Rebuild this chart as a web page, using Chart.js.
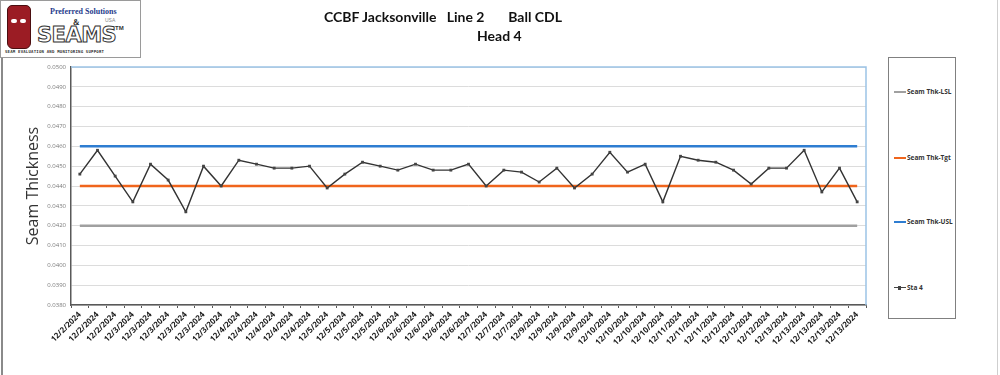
<!DOCTYPE html>
<html><head><meta charset="utf-8">
<script src="https://cdn.jsdelivr.net/npm/chart.js@4.4.1/dist/chart.umd.min.js"></script>
<style>
html,body{margin:0;padding:0;background:#fff}
body{width:1000px;height:375px;position:relative;overflow:hidden;font-family:Lato,"Open Sans",sans-serif}
#c{position:absolute;left:0;top:0}
.frameL{position:absolute;left:1px;top:0;width:2px;height:375px;background:#8a8a8a}
.frameR{position:absolute;left:997px;top:0;width:1px;height:375px;background:#cfcfcf}
#logo{position:absolute;left:0;top:0;width:139px;height:56px;border:1px solid #9a9a9a;background:#fff;overflow:hidden}
#can{position:absolute;left:6px;top:4px;width:22px;height:42px;background:#9b1c24;border-radius:5px 5px 6px 6px;border:1px solid #4a0e10}
#can:before{content:"";position:absolute;left:3px;top:13px;width:6px;height:4px;background:#fff;border-radius:2px}
#can:after{content:"";position:absolute;left:12px;top:13px;width:6px;height:4px;background:#fff;border-radius:2px}
#ps{position:absolute;left:49px;top:6px;font:bold 8px "Liberation Serif",serif;color:#1f3c8c;white-space:nowrap}
#usa{position:absolute;left:104px;top:16px;font:5px sans-serif;color:#888}
#amp{position:absolute;left:72px;top:17px;font:bold 8px "Liberation Serif",serif;color:#222}
#seams{position:absolute;left:36px;top:22px;font:bold 21px "DejaVu Sans",sans-serif;color:#fff;-webkit-text-stroke:1px #333;letter-spacing:-0.5px;white-space:nowrap}
#tm{position:absolute;left:114px;top:24px;font:bold 6px sans-serif;color:#333}
#sub{position:absolute;left:4px;top:48px;font:bold 4px "DejaVu Sans Mono",monospace;color:#333;white-space:nowrap;letter-spacing:0.2px}
#t1{position:absolute;left:0;width:886px;top:8px;text-align:center;font:bold 14px Lato,sans-serif;color:#111;white-space:pre}
#t2{position:absolute;left:477px;top:27px;font:bold 14px Lato,sans-serif;color:#111}
#legend{position:absolute;left:888px;top:57px;width:66px;height:260px;border:1px solid #808080;background:#fff}
.li{position:absolute;left:5px;font:bold 6.5px "Open Sans",sans-serif;color:#333;white-space:nowrap;display:flex;align-items:center}
.li i{display:inline-block;width:12px;height:2px;margin-right:1px;position:relative}
.li i.m:after{content:"";position:absolute;left:4px;top:-1px;width:3px;height:4px;background:#444}
</style></head>
<body>
<canvas id="c" width="1000" height="375"></canvas>
<div class="frameL"></div><div class="frameR"></div>
<div id="logo"><div id="can"></div><div id="ps">Preferred Solutions</div><div id="usa">USA</div><div id="amp">&amp;</div><div id="seams">SEAMS</div><div id="tm">TM</div><div id="sub">SEAM EVALUATION AND MONITORING SUPPORT</div></div>
<div id="t1">CCBF Jacksonville   Line 2       Ball CDL</div>
<div id="t2">Head 4</div>
<div id="legend">
 <div class="li" style="top:29px"><i style="background:#a0a0a0"></i>Seam Thk-LSL</div>
 <div class="li" style="top:95px"><i style="background:#f0651c"></i>Seam Thk-Tgt</div>
 <div class="li" style="top:159px"><i style="background:#2e7dd1"></i>Seam Thk-USL</div>
 <div class="li" style="top:225px"><i class="m" style="background:#444;height:1px"></i>Sta 4</div>
</div>
<script>
const labels = [
 "12/2/2024","12/2/2024","12/2/2024",
 "12/3/2024","12/3/2024","12/3/2024","12/3/2024","12/3/2024","12/3/2024",
 "12/4/2024","12/4/2024","12/4/2024","12/4/2024","12/4/2024",
 "12/5/2024","12/5/2024","12/5/2024","12/5/2024",
 "12/6/2024","12/6/2024","12/6/2024","12/6/2024","12/6/2024",
 "12/7/2024","12/7/2024","12/7/2024",
 "12/9/2024","12/9/2024","12/9/2024","12/9/2024",
 "12/10/2024","12/10/2024","12/10/2024","12/10/2024",
 "12/11/2024","12/11/2024","12/11/2024",
 "12/12/2024","12/12/2024","12/12/2024",
 "12/13/2024","12/13/2024","12/13/2024","12/13/2024","12/13/2024"
];
const sta4 = [
 0.0446,0.0458,0.0445,0.0432,0.0451,0.0443,0.0427,0.0450,0.0440,
 0.0453,0.0451,0.0449,0.0449,0.0450,0.0439,0.0446,0.0452,0.0450,
 0.0448,0.0451,0.0448,0.0448,0.0451,0.0440,0.0448,0.0447,0.0442,
 0.0449,0.0439,0.0446,0.0457,0.0447,0.0451,0.0432,0.0455,0.0453,
 0.0452,0.0448,0.0441,0.0449,0.0449,0.0458,0.0437,0.0449,0.0432
];
const lsl = 0.0420, tgt = 0.0440, usl = 0.0460;
const yMin = 0.0380, yMax = 0.0500, yStep = 0.0010;

const lslData = labels.map(() => lsl);
const tgtData = labels.map(() => tgt);
const uslData = labels.map(() => usl);

const borderPlugin = {
  id:'plotBorder',
  beforeDatasetsDraw(chart){
    const {ctx, chartArea:a} = chart;
    ctx.save();
    ctx.strokeStyle = '#9cc3e6';
    ctx.lineWidth = 1.5;
    ctx.beginPath();
    ctx.moveTo(a.left, a.top); ctx.lineTo(a.right, a.top); ctx.lineTo(a.right, a.bottom);
    ctx.stroke();
    ctx.restore();
  }
};

new Chart(document.getElementById('c'), {
  type:'line',
  data:{
    labels,
    datasets:[
      {label:'Sta 4', data:sta4, borderColor:'#333333', borderWidth:1.4, pointStyle:'rect', pointRadius:2, pointBackgroundColor:'#444', pointBorderColor:'#444', pointBorderWidth:0, tension:0, order:0},
      {label:'Seam Thk-LSL', data:lslData, borderColor:'#a0a0a0', borderWidth:2.5, pointRadius:0, order:3},
      {label:'Seam Thk-Tgt', data:tgtData, borderColor:'#f0651c', borderWidth:2.5, pointRadius:0, order:2},
      {label:'Seam Thk-USL', data:uslData, borderColor:'#2e7dd1', borderWidth:2.5, pointRadius:0, order:1}
    ]
  },
  options:{
    responsive:false, animation:false,
    layout:{padding:{left:0, top:67, right:134, bottom:0}},
    plugins:{legend:{display:false}, title:{display:false}, tooltip:{enabled:false}},
    scales:{
      x:{
        type:'category', offset:true,
        grid:{display:true, drawOnChartArea:false, drawTicks:true, tickLength:3, offset:true, color:'#595959'},
        border:{display:true, color:'#595959', width:1.5},
        ticks:{autoSkip:false, maxRotation:45, minRotation:45, padding:2, color:'#1a1a1a', font:{family:'"Open Sans", sans-serif', size:8, weight:'bold'}},
        afterFit(s){ s.height = 70; }
      },
      y:{
        min:yMin, max:yMax,
        grid:{color:'#dcdcdc', lineWidth:1, drawTicks:false},
        border:{display:true, color:'#595959', width:1.5},
        ticks:{stepSize:yStep, padding:5, color:'#7a7a7a', font:{family:'"Open Sans", sans-serif', size:6}, callback:v => v.toFixed(4)},
        title:{display:true, text:'Seam Thickness', color:'#333', font:{family:'"Open Sans", sans-serif', size:16}, padding:{top:24, bottom:0}},
        afterFit(s){ s.width = 71; }
      }
    }
  },
  plugins:[borderPlugin]
});
</script>
</body></html>
